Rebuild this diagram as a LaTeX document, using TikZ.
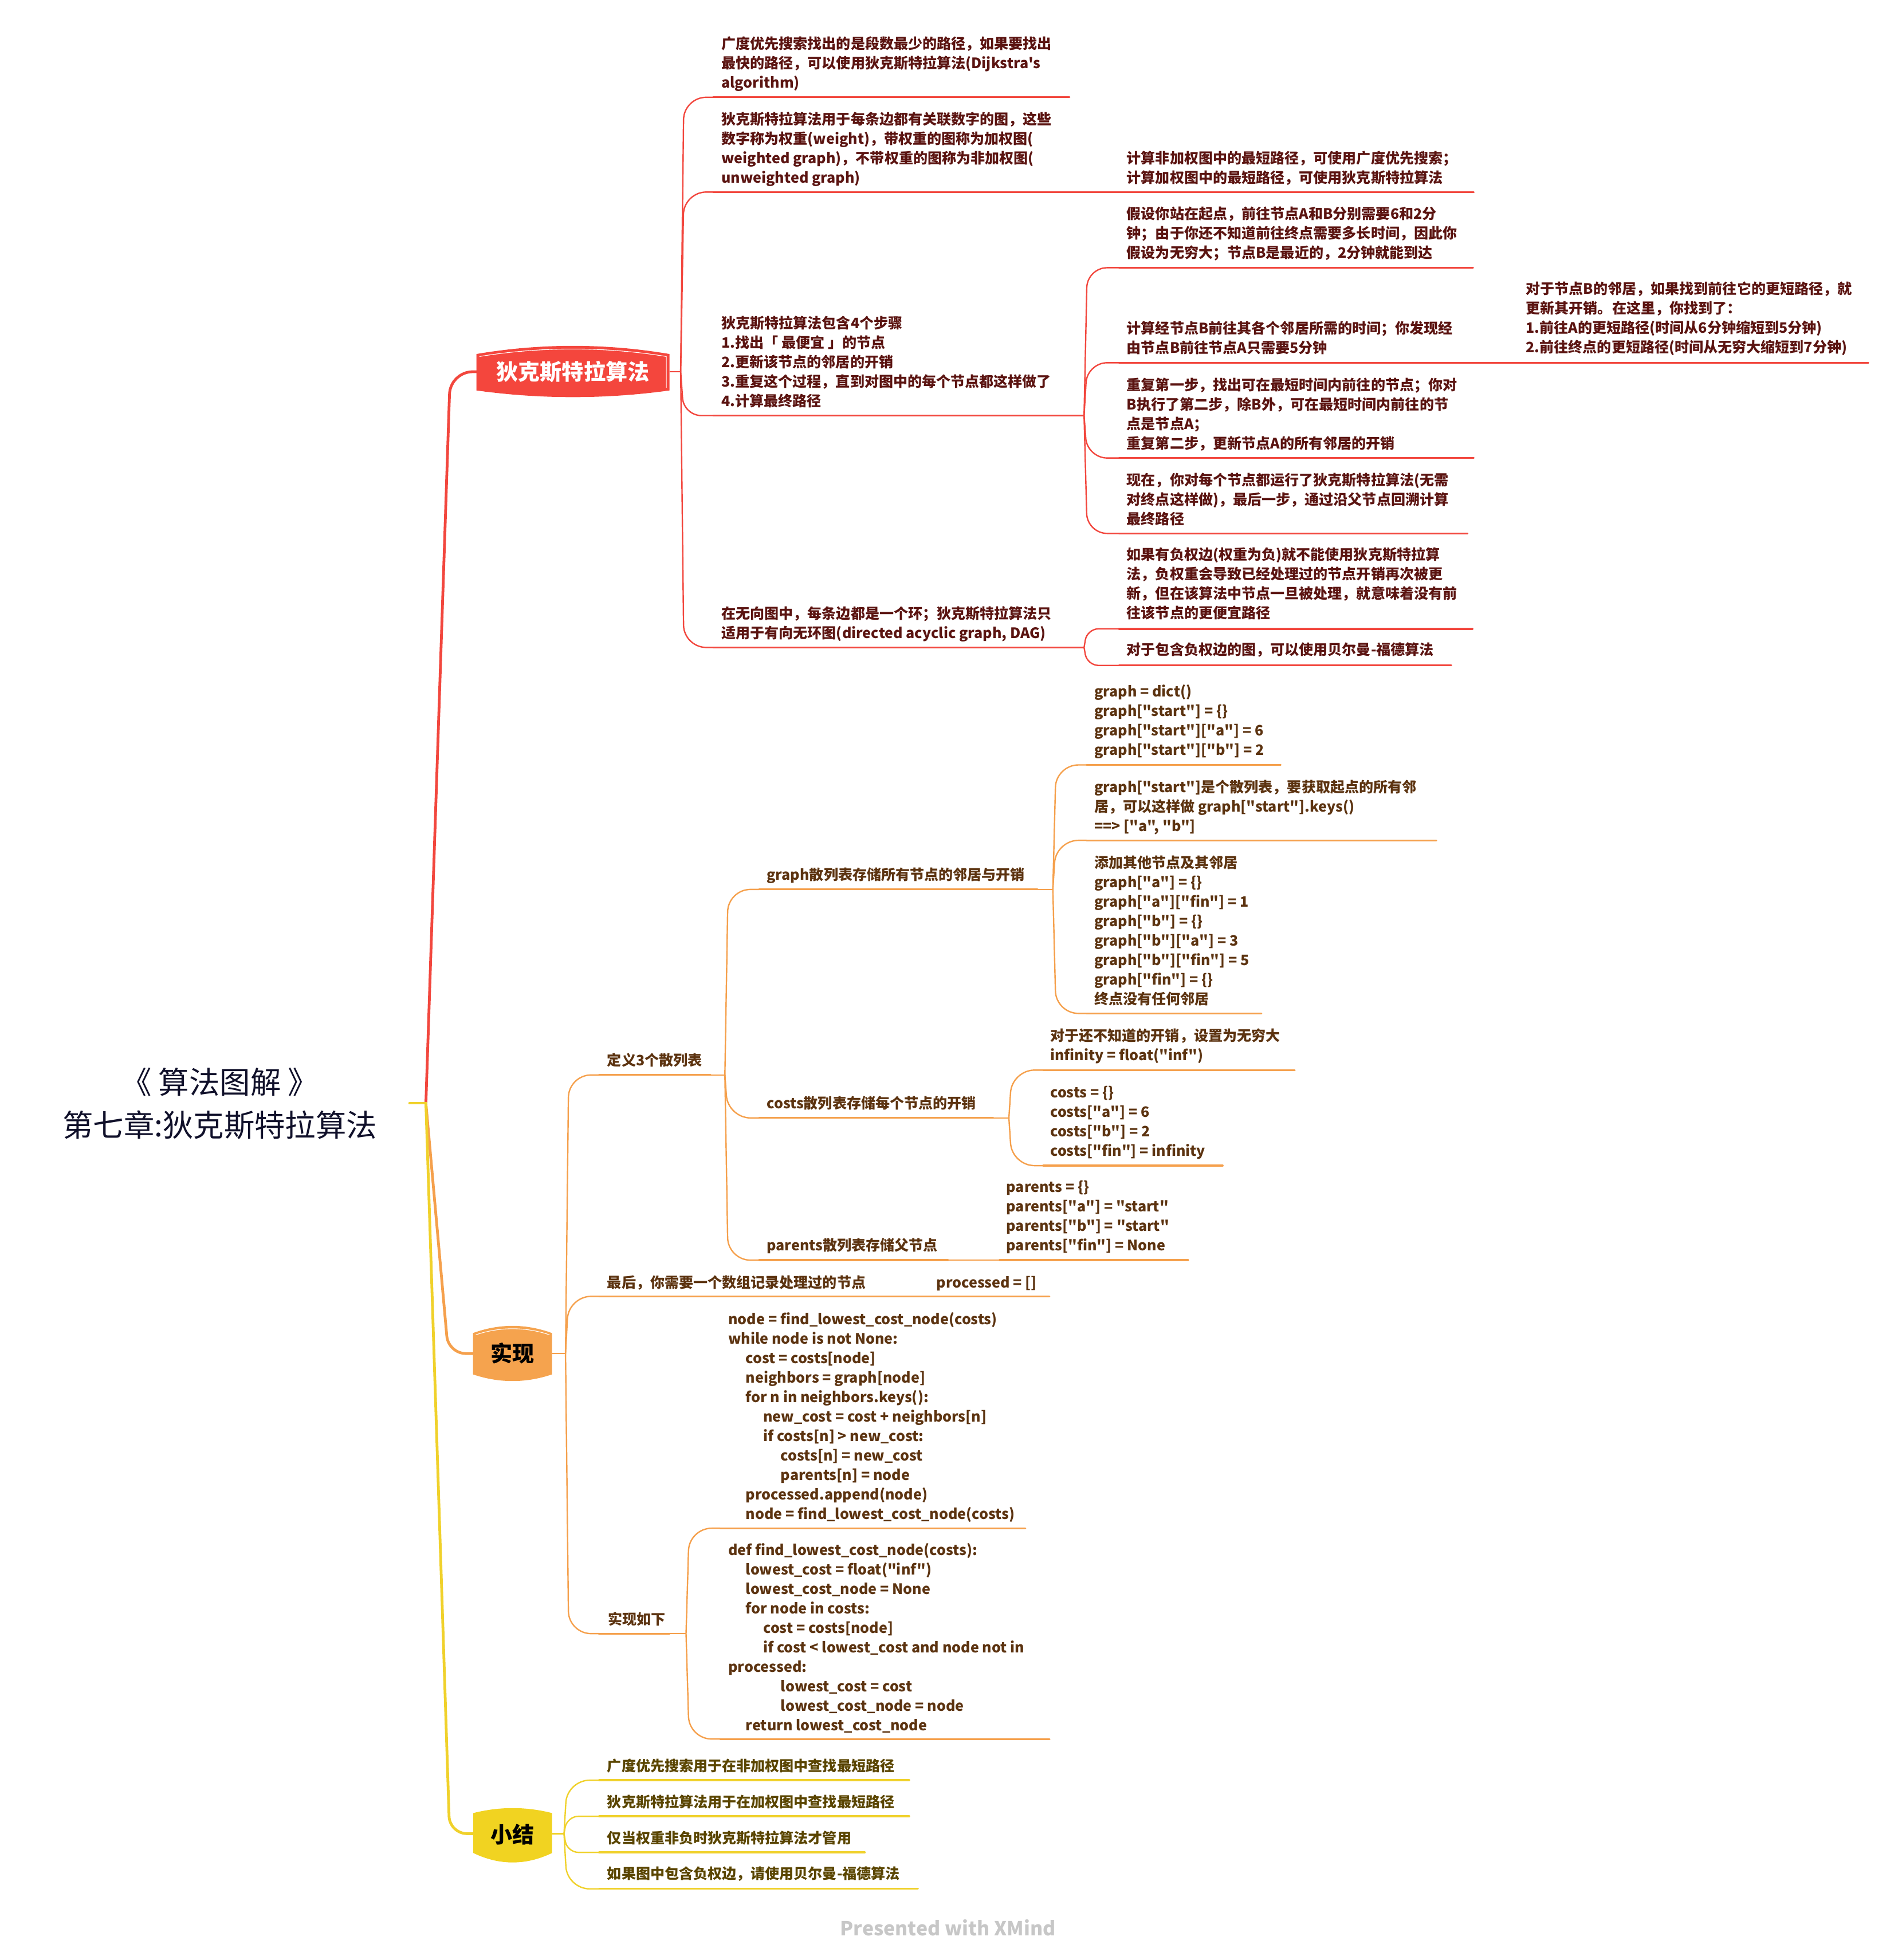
\documentclass[tikz,border=0pt]{standalone}
\usepackage{fontspec}
\setmainfont{Noto Sans CJK SC}[Ligatures=TeXOff]
\usetikzlibrary{calc}
\definecolor{rline}{HTML}{F2473E}
\definecolor{oline}{HTML}{F5A04C}
\definecolor{yline}{HTML}{F0D12B}
\definecolor{rfill}{HTML}{F4463D}
\definecolor{ofill}{HTML}{F5A34E}
\definecolor{yfill}{HTML}{F1D321}
\definecolor{rtext}{HTML}{5B1411}
\definecolor{otext}{HTML}{5C3310}
\definecolor{ytext}{HTML}{5A4500}
\definecolor{roottext}{HTML}{10102A}
\newcommand\bodyfont{\fontsize{11.5}{15.6}\selectfont\bfseries}
\newcommand\mmind[1]{\hspace*{#1pt}}
\tikzset{
  txtR/.style={anchor=north west, inner sep=0pt, align=left, font=\bodyfont, text=rtext},
  txtO/.style={anchor=north west, inner sep=0pt, align=left, font=\bodyfont, text=otext},
  txtY/.style={anchor=north west, inner sep=0pt, align=left, font=\bodyfont, text=ytext},
  ulR/.style={draw=rline, line width=1.5pt, line cap=round},
  ulO/.style={draw=oline, line width=1.5pt, line cap=round},
  ulY/.style={draw=yline, line width=1.5pt, line cap=round},
  cnR/.style={draw=rline, line width=1.1pt},
  cnO/.style={draw=oline, line width=1.1pt},
  cnY/.style={draw=yline, line width=1.1pt},
  mainline/.style={line width=2.2pt, line cap=round},
  mainlabel/.style={inner sep=0pt, font=\fontsize{17.5}{20}\selectfont\bfseries},
}
% #1 name, #2 R/O/Y, #3 text x, #4 first line centre y, #5 underline y, #6 underline start x, #7 underline end x, #8 text
\newcommand\mmtopic[8]{%
  \node[txt#2] (#1) at (#3,6.5-#4) {\strut #8};
  \coordinate (#1-s) at (#6,-#5);
  \coordinate (#1-e) at (#7,-#5);
  \draw[ul#2] (#1-s) -- (#1-e);
}
% #1 R/O/Y, #2 spine coordinate, #3 child start, #4 radius
\newcommand\mmcurve[4]{%
  \draw[cn#1, rounded corners=#4pt] (#2) -- ($(#2 |- #3)+(2.5,0)$) -- (#3);
}
\begin{document}
\begin{tikzpicture}[x=1pt,y=1pt]
\useasboundingbox (0,0) rectangle (1519.3,-1569.7);

% ---------- root ----------
\node[align=center, inner sep=0pt, font=\fontsize{24.5}{34.2}\selectfont, text=roottext] (root) at (176,-884) {《 算法图解 》\\第七章:狄克斯特拉算法};
\coordinate (rootr) at (328,-883.5);
\coordinate (rootc) at (341,-883.5);
\coordinate (redL) at (381.5,-297.7);
\coordinate (orL) at (378.7,-1084);
\coordinate (yeL) at (379,-1468.5);
\draw[mainline, draw=rline, rounded corners=18pt] (rootc) -- (360.5,-297.7) -- (redL);
\draw[mainline, draw=oline, rounded corners=14pt] (rootc) -- (359,-1084) -- (orL);
\draw[mainline, draw=yline, rounded corners=14pt] (rootc) -- (360,-1468.5) -- (yeL);
\draw[mainline, draw=yline] (rootr) -- (rootc);

% ---------- main topic shapes ----------
\fill[rfill] (381.5,-283.5) .. controls (433,-274.8) and (484.5,-274.8) .. (536,-283.5) -- (536,-312.7) .. controls (484.5,-319.8) and (433,-319.8) .. (381.5,-312.7) -- cycle;
\draw[white, line width=0.5pt] (384,-285.5) .. controls (433,-277.5) and (484.5,-277.5) .. (533.5,-285.5) -- (533.5,-310.5);
\node[mainlabel, text=white] (redn) at (458.7,-297.7) {狄克斯特拉算法};

\fill[ofill] (378.7,-1067.6) .. controls (399.8,-1059.9) and (420.9,-1059.9) .. (442,-1067.6) -- (442,-1100.7) .. controls (420.9,-1107.8) and (399.8,-1107.8) .. (378.7,-1100.7) -- cycle;
\draw[white, line width=0.5pt] (381,-1069) .. controls (400,-1062.5) and (420.9,-1062.5) .. (440,-1069);
\node[mainlabel, text=black] (orn) at (410.4,-1084) {实现};

\fill[yfill] (379,-1452) .. controls (400,-1446.7) and (421,-1446.7) .. (442,-1452) -- (442,-1484) .. controls (421,-1494.1) and (400,-1494.1) .. (379,-1484) -- cycle;
\draw[white, line width=0.5pt] (381,-1486) .. controls (400,-1494) and (421,-1494) .. (440,-1486);
\node[mainlabel, text=black] (yen) at (410.5,-1469) {小结};

% ---------- red branch ----------
\mmtopic{c1}{R}{577.5}{34.8}{77.9}{571}{856.3}{广度优先搜索找出的是段数最少的路径，如果要找出\\最快的路径，可以使用狄克斯特拉算法(Dijkstra's\\algorithm)}
\mmtopic{c2}{R}{577.5}{95.2}{153.8}{571}{855}{狄克斯特拉算法用于每条边都有关联数字的图，这些\\数字称为权重(weight)，带权重的图称为加权图(\\weighted graph)，不带权重的图称为非加权图(\\unweighted graph)}
\mmtopic{c2a}{R}{902}{126.4}{153.8}{895.7}{1180}{计算非加权图中的最短路径，可使用广度优先搜索；\\计算加权图中的最短路径，可使用狄克斯特拉算法}
\mmtopic{c3}{R}{577.5}{258.6}{332.8}{571}{862}{狄克斯特拉算法包含4个步骤\\1.找出「 最便宜 」的节点\\2.更新该节点的邻居的开销\\3.重复这个过程，直到对图中的每个节点都这样做了\\4.计算最终路径}
\mmtopic{c3a}{R}{902}{170.9}{214.4}{896}{1179.5}{假设你站在起点，前往节点A和B分别需要6和2分\\钟；由于你还不知道前往终点需要多长时间，因此你\\假设为无穷大；节点B是最近的，2分钟就能到达}
\mmtopic{c3b}{R}{902}{262.4}{290.5}{896}{1179}{计算经节点B前往其各个邻居所需的时间；你发现经\\由节点B前往节点A只需要5分钟}
\mmtopic{c3b1}{R}{1221.6}{231}{290.5}{1215}{1496}{对于节点B的邻居，如果找到前往它的更短路径，就\\更新其开销。在这里，你找到了：\\1.前往A的更短路径(时间从6分钟缩短到5分钟)\\2.前往终点的更短路径(时间从无穷大缩短到7分钟)}
\mmtopic{c3c}{R}{902}{307.9}{366.8}{896}{1180}{重复第一步，找出可在最短时间内前往的节点；你对\\B执行了第二步，除B外，可在最短时间内前往的节\\点是节点A；\\重复第二步，更新节点A的所有邻居的开销}
\mmtopic{c3d}{R}{902}{384.2}{427.2}{896}{1175}{现在，你对每个节点都运行了狄克斯特拉算法(无需\\对终点这样做)，最后一步，通过沿父节点回溯计算\\最终路径}
\mmtopic{c4}{R}{577.5}{491.2}{518.5}{571}{855}{在无向图中，每条边都是一个环；狄克斯特拉算法只\\适用于有向无环图(directed acyclic graph, DAG)}
\mmtopic{c4a}{R}{902}{443.9}{503.6}{896}{1179}{如果有负权边(权重为负)就不能使用狄克斯特拉算\\法，负权重会导致已经处理过的节点开销再次被更\\新，但在该算法中节点一旦被处理，就意味着没有前\\往该节点的更便宜路径}
\mmtopic{c4b}{R}{902}{519.7}{532.9}{896}{1162}{对于包含负权边的图，可以使用贝尔曼-福德算法}

\coordinate (redR) at (536,-297.7);
\coordinate (redsp) at (545,-297.7);
\draw[cnR] (redR) -- (redsp);
\mmcurve{R}{redsp}{c1-s}{18}
\mmcurve{R}{redsp}{c2-s}{18}
\mmcurve{R}{redsp}{c3-s}{14}
\mmcurve{R}{redsp}{c4-s}{18}
\draw[cnR] (c2-e) -- (c2a-s);
\coordinate (c3sp) at (868,-332.8);
\draw[cnR] (c3-e) -- (c3sp);
\mmcurve{R}{c3sp}{c3a-s}{16}
\mmcurve{R}{c3sp}{c3b-s}{16}
\mmcurve{R}{c3sp}{c3c-s}{16}
\mmcurve{R}{c3sp}{c3d-s}{16}
\draw[cnR] (c3b-e) -- (c3b1-s);
\coordinate (c4sp) at (868,-518.5);
\draw[cnR] (c4-e) -- (c4sp);
\mmcurve{R}{c4sp}{c4a-s}{9}
\mmcurve{R}{c4sp}{c4b-s}{9}

% ---------- orange branch ----------
\mmtopic{o1}{O}{486}{848.6}{860.9}{479.6}{569}{定义3个散列表}
\mmtopic{o1a}{O}{613.8}{700.4}{712.3}{607.8}{830.7}{graph散列表存储所有节点的邻居与开销}
\mmtopic{o1a1}{O}{876}{553.6}{612.6}{870}{1025.5}{graph = dict()\\graph["start"] = \{\}\\graph["start"]["a"] = 6\\graph["start"]["b"] = 2}
\mmtopic{o1a2}{O}{876}{630}{673}{870}{1150}{graph["start"]是个散列表，要获取起点的所有邻\\居，可以这样做 graph["start"].keys()\\==> ["a", "b"]}
\mmtopic{o1a3}{O}{876}{690.4}{811.6}{870}{1010}{添加其他节点及其邻居\\graph["a"] = \{\}\\graph["a"]["fin"] = 1\\graph["b"] = \{\}\\graph["b"]["a"] = 3\\graph["b"]["fin"] = 5\\graph["fin"] = \{\}\\终点没有任何邻居}
\mmtopic{o1b}{O}{613.8}{883}{895.3}{607.8}{795.3}{costs散列表存储每个节点的开销}
\mmtopic{o1b1}{O}{840.8}{829}{857}{835.3}{1036.7}{对于还不知道的开销，设置为无穷大\\infinity = float("inf")}
\mmtopic{o1b2}{O}{840.8}{874.6}{933.5}{835.3}{979}{costs = \{\}\\costs["a"] = 6\\costs["b"] = 2\\costs["fin"] = infinity}
\mmtopic{o1c}{O}{613.8}{996.9}{1009.2}{607.8}{759}{parents散列表存储父节点}
\mmtopic{o1c1}{O}{805.6}{950.3}{1009.2}{800.3}{951.3}{parents = \{\}\\parents["a"] = "start"\\parents["b"] = "start"\\parents["fin"] = None}
\mmtopic{o2}{O}{486}{1026.7}{1038.2}{479.6}{704}{最后，你需要一个数组记录处理过的节点}
\mmtopic{o2a}{O}{749.6}{1026.7}{1038.2}{744}{840.2}{processed = []}
\mmtopic{o3}{O}{486.5}{1296.5}{1308.3}{479.4}{536}{实现如下}
\mmtopic{o3a}{O}{583}{1056.1}{1223.9}{576.6}{821}{node = find\_lowest\_cost\_node(costs)\\while node is not None:\\\mmind{14}cost = costs[node]\\\mmind{14}neighbors = graph[node]\\\mmind{14}for n in neighbors.keys():\\\mmind{28}new\_cost = cost + neighbors[n]\\\mmind{28}if costs[n] > new\_cost:\\\mmind{42}costs[n] = new\_cost\\\mmind{42}parents[n] = node\\\mmind{14}processed.append(node)\\\mmind{14}node = find\_lowest\_cost\_node(costs)}
\mmtopic{o3b}{O}{583}{1241}{1392.7}{576.6}{840.4}{def find\_lowest\_cost\_node(costs):\\\mmind{14}lowest\_cost = float("inf")\\\mmind{14}lowest\_cost\_node = None\\\mmind{14}for node in costs:\\\mmind{28}cost = costs[node]\\\mmind{28}if cost < lowest\_cost and node not in\\processed:\\\mmind{42}lowest\_cost = cost\\\mmind{42}lowest\_cost\_node = node\\\mmind{14}return lowest\_cost\_node}

\coordinate (orR) at (442,-1084);
\coordinate (orsp) at (452.8,-1084);
\draw[cnO] (orR) -- (orsp);
\mmcurve{O}{orsp}{o1-s}{18}
\mmcurve{O}{orsp}{o2-s}{18}
\mmcurve{O}{orsp}{o3-s}{18}
\coordinate (o1sp) at (580.4,-860.9);
\draw[cnO] (o1-e) -- (o1sp);
\mmcurve{O}{o1sp}{o1a-s}{18}
\mmcurve{O}{o1sp}{o1b-s}{18}
\mmcurve{O}{o1sp}{o1c-s}{18}
\coordinate (o1asp) at (843,-712.3);
\draw[cnO] (o1a-e) -- (o1asp);
\mmcurve{O}{o1asp}{o1a1-s}{18}
\mmcurve{O}{o1asp}{o1a2-s}{18}
\mmcurve{O}{o1asp}{o1a3-s}{18}
\coordinate (o1bsp) at (807.8,-895.3);
\draw[cnO] (o1b-e) -- (o1bsp);
\mmcurve{O}{o1bsp}{o1b1-s}{18}
\mmcurve{O}{o1bsp}{o1b2-s}{18}
\draw[cnO] (o1c-e) -- (o1c1-s);
\draw[cnO] (o2-e) -- (o2a-s);
\coordinate (o3sp) at (549.3,-1308.3);
\draw[cnO] (o3-e) -- (o3sp);
\mmcurve{O}{o3sp}{o3a-s}{18}
\mmcurve{O}{o3sp}{o3b-s}{18}

% ---------- yellow branch ----------
\mmtopic{y1}{Y}{486}{1413.7}{1425.7}{479.7}{728}{广度优先搜索用于在非加权图中查找最短路径}
\mmtopic{y2}{Y}{486}{1443}{1454.6}{479.7}{728}{狄克斯特拉算法用于在加权图中查找最短路径}
\mmtopic{y3}{Y}{486}{1471.6}{1483.5}{479.7}{692.4}{仅当权重非负时狄克斯特拉算法才管用}
\mmtopic{y4}{Y}{486}{1500}{1512.7}{479.7}{735}{如果图中包含负权边，请使用贝尔曼-福德算法}
\coordinate (yeR) at (442,-1468.5);
\coordinate (yesp) at (451.6,-1468.5);
\draw[cnY] (yeR) -- (yesp);
\mmcurve{Y}{yesp}{y1-s}{18}
\mmcurve{Y}{yesp}{y2-s}{9}
\mmcurve{Y}{yesp}{y3-s}{9}
\mmcurve{Y}{yesp}{y4-s}{18}

% ---------- footer ----------
\node[inner sep=0pt, font=\fontsize{15.5}{16}\selectfont\bfseries, text=black!22] (xmind) at (759,-1544) {Presented with XMind};
\end{tikzpicture}
\end{document}
